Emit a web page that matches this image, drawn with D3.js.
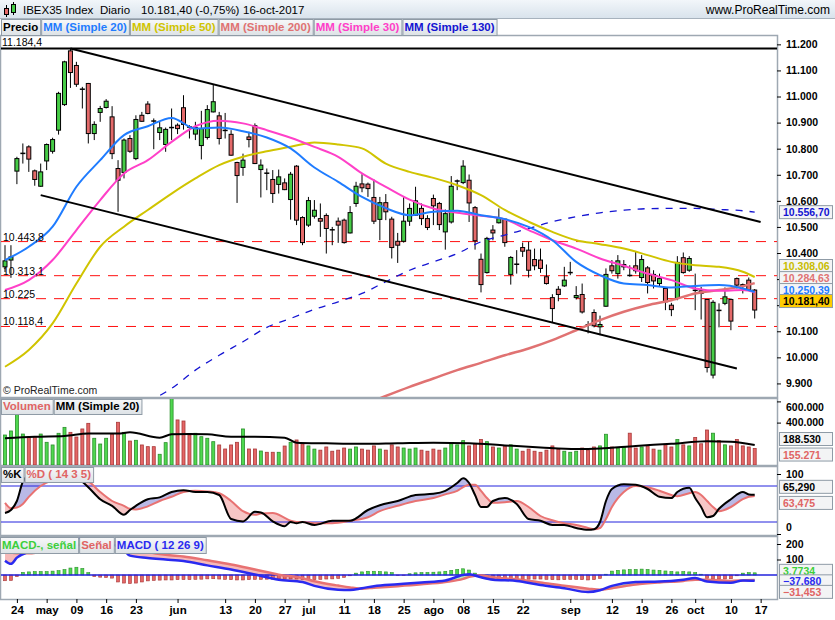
<!DOCTYPE html>
<html>
<head>
<meta charset="utf-8">
<script src="https://cdn.jsdelivr.net/npm/d3@7"></script>
<style>
  body { margin: 0; background: #fff; }
  svg { display: block; font-family: "Liberation Sans", Arial, sans-serif; }
</style>
</head>
<body>
<div id="chart"></div>
<script>
// Datos (IBEX35 diario, 20-abr a 16-oct 2017)
const open  = [10347,10373,10714,10780,10807,10715,10656,10753,10790,10871,10969,11175,11119,11030,11050,10858,10939,10958,10922,10724,10709,10839,10762,10928,10971,10908,10862,10816,10879,10890,10957,10885,10856,10812,10843,10941,10926,10872,10855,10747,10728,10845,10888,10720,10708,10682,10663,10669,10605,10733,10536,10507,10541,10532,10544,10491,10522,10526,10477,10590,10665,10664,10613,10529,10593,10530,10445,10445,10522,10545,10571,10532,10609,10590,10481,10519,10674,10670,10679,10574,10376,10325,10488,10516,10530,10318,10355,10421,10411,10375,10373,10309,10229,10261,10274,10323,10229,10241,10127,10172,10117,10196,10351,10321,10347,10316,10351,10306,10343,10318,10283,10264,10200,10226,10382,10334,10259,10255,10222,9932,10182,10207,10222,10302,10279,10296,10258];
const high  = [10430,10430,10769,10820,10813,10720,10743,10820,10842,11018,11137,11184.4,11133,11037,11052,10905,10964,10990,10963,10756,10839,10852,10928,10941,10982,10916,10903,10881,10954,10897,11005,10890,10903,10945,10967,11044,10941,10937,10871,10750,10781,10865,10897,10759,10724,10718,10720,10686,10711,10737,10541,10615,10603,10590,10552,10500,10536,10532,10580,10673,10702,10670,10682,10615,10626,10539,10477,10618,10590,10654,10590,10545,10624,10596,10567,10695,10682,10756,10701,10580,10398,10462,10507,10571,10532,10388,10411,10440,10443,10417,10417,10356,10242,10273,10347,10366,10273,10283,10139,10184,10160,10341,10373,10392,10373,10353,10404,10392,10350,10334,10321,10270,10209,10388,10402,10388,10321,10270,10222,10219,10207,10268,10226,10306,10283,10306,10262];
const low   = [10327,10305,10664,10743,10711,10658,10654,10718,10781,10854,10964,11033,11037,10954,10820,10833,10903,10954,10760,10558,10686,10784,10756,10903,10932,10798,10833,10788,10833,10856,10873,10839,10833,10759,10835,10939,10816,10839,10773,10592,10696,10805,10741,10613,10641,10592,10628,10641,10528,10507,10430,10500,10532,10462,10398,10430,10439,10436,10475,10577,10633,10615,10511,10449,10526,10379,10362,10440,10504,10543,10507,10488,10507,10488,10413,10513,10641,10664,10519,10413,10249,10321,10449,10513,10424,10279,10321,10385,10306,10334,10324,10279,10132,10215,10270,10315,10222,10168,10092,10115,10085,10194,10321,10302,10334,10309,10321,10289,10245,10264,10270,10181,10158,10219,10321,10328,10181,10145,9942,9919,10115,10200,10104,10264,10245,10255,10149];
const close = [10370,10385,10762,10782,10760,10682,10711,10816,10835,11012,11133,11092,11047,11028,10858,10893,10954,10982,10781,10679,10833,10790,10912,10905,10935,10906,10880,10874,10881,10877,10893,10883,10881,10877,10950,10980,10839,10870,10775,10697,10756,10835,10743,10737,10706,10628,10692,10643,10702,10526,10440,10601,10564,10522,10494,10489,10507,10440,10555,10656,10650,10647,10522,10593,10558,10421,10430,10522,10571,10600,10532,10498,10581,10509,10551,10656,10676,10733,10592,10447,10279,10456,10477,10532,10440,10383,10357,10407,10334,10351,10341,10283,10187,10241,10296,10325,10237,10174,10125,10121,10126,10318,10332,10370,10356,10314,10332,10375,10287,10293,10302,10213,10183,10364,10325,10379,10257,10245,9961,10211,10180,10232,10139,10277,10273,10258,10181.4];
// volumen en miles
const volume = [283,321,481,292,267,267,292,214,189,299,355,308,264,340,393,252,198,252,292,403,308,226,233,189,173,173,101,211,750,425,415,283,299,267,252,220,189,151,189,214,340,151,151,132,120,120,120,179,214,236,200,180,150,140,170,130,140,160,150,170,150,140,180,150,140,190,170,160,150,160,140,130,150,140,160,200,190,230,180,200,240,220,170,160,180,190,150,130,150,130,120,140,180,150,130,120,130,160,140,170,180,290,170,160,170,300,160,170,180,150,140,190,170,240,190,180,260,200,330,300,230,190,180,240,180,170,155.271];
const histogram = [-37,-35,-10,17,20,22,22,22,25,28,35,45,50,42,15,-10,-14,-16,-20,-45,-52,-55,-52,-45,-38,-35,-33,-32,-32,-30,-30,-30,-28,-27,-25,-24,-26,-28,-30,-32,-32,-30,-28,-28,-27,-27,-26,-26,-25,-26,-28,-30,-30,-28,-26,-25,-22,-15,-5,12,20,24,24,22,20,15,-4,-2,8,14,15,16,18,20,24,30,36,40,32,12,-15,-22,-22,-24,-22,-25,-25,-27,-27,-26,-26,-28,-30,-31,-30,-28,-28,-30,-32,-30,-22,5,25,30,33,35,36,38,36,32,30,26,22,20,22,20,15,5,-22,-25,-26,-26,-24,-5,12,15,14];

// medias móviles, leídas cada pocas sesiones (índice de sesión)
const maIdx  = [0,4,8,12,16,20,24,28,32,36,40,44,48,52,56,60,64,68,72,76,80,84,88,92,96,100,104,108,112,116,120,124,126];
const mm20   = [10373,10424,10501,10654,10756,10852,10886,10918,10877,10881,10867,10843,10801,10728,10673,10615,10572,10545,10558,10562,10545,10530,10500,10449,10366,10315,10283,10277,10268,10274,10277,10264,10250.39];
const mm30   = [10258,10296,10373,10488,10603,10705,10756,10826,10886,10907,10897,10871,10842,10807,10769,10705,10654,10605,10571,10554,10543,10529,10488,10449,10417,10379,10351,10321,10296,10264,10255,10258,10249];
const mm50   = [9964,10028,10130,10283,10424,10501,10565,10628,10686,10737,10769,10790,10807,10824,10816,10801,10743,10711,10688,10660,10622,10565,10520,10481,10449,10434,10417,10392,10366,10353,10347,10328,10308.06];
const mm200  = [null,null,null,null,null,null,null,null,null,null,null,null,null,null,null,9815,9852,9887,9919,9951,9979,10008,10034,10066,10104,10143,10175,10200,10219,10245,10258,10273,10284.63];
const mm130  = [null,null,null,null,null,null,9830,9881,9951,10008,10060,10115,10149,10184,10213,10245,10290,10334,10366,10398,10443,10469,10494,10520,10539,10554,10564,10570,10571,10571,10567,10562,10556.70];

const volIdx = [0,5,10,14,19,21,26,28,31,34,38,42,47,49,54,60,66,72,78,84,90,96,100,106,112,118,122,126];
const volMA  = [252,267,274,296,296,308,258,289,292,289,267,267,258,211,205,200,205,210,205,185,165,150,155,180,200,225,220,188.53];

const stoIdx = [0,1,2,3,4,6,8,10,12,13,14,16,18,20,21,22,24,26,28,30,32,34,36,38,40,42,43,45,47,48,49,50,52,55,58,61,63,66,69,72,74,76,77,78,79,80,81,82,84,86,88,90,92,94,96,98,99,100,101,102,104,106,108,110,112,113,115,116,117,118,119,120,122,124,125,126];
const stoK   = [35,40,55,87,97,100,98,100,95,87,78,58,47,32,40,47,58,61,70,73,70,70,65,25,21,37,36,21,13,20,18,20,15,22,22,40,48,55,65,67,72,85,93,85,65,45,45,55,60,50,25,22,15,15,10,7,8,20,55,75,83,82,75,62,60,70,77,60,45,28,30,42,58,70,66,65.29];
const stoD   = [52,43,44,50,62,80,90,95,97,93,88,70,55,47,42,41,46,55,62,70,72,71,68,55,38,32,34,35,27,22,20,20,18,18,22,28,38,47,55,60,66,72,78,82,82,72,60,52,53,55,45,30,23,18,15,10,8,10,25,45,70,80,78,72,65,63,68,70,65,55,45,38,45,58,62,63.475];

const macdIdx    = [0,1,2,4,8,12,16,18,20,21,24,27,30,34,38,42,46,50,52,56,58,60,62,66,70,74,77,78,80,82,86,90,94,98,100,102,106,110,114,116,118,122,124,126];
const macdLine   = [92,72,112,150,200,240,230,200,160,125,110,100,90,62,35,3,-30,-45,-70,-95,-97,-85,-72,-60,-48,-35,0,5,-15,-30,-38,-65,-85,-110,-98,-70,-45,-42,-30,-20,-42,-50,-35,-37.68];
const macdSignal = [158,145,140,140,165,190,215,215,200,185,150,130,120,95,68,35,2,-20,-40,-68,-80,-88,-82,-72,-60,-45,-25,-12,-3,-15,-28,-48,-70,-88,-95,-85,-62,-48,-38,-30,-30,-38,-35,-31.453];

const levels = [10443.8, 10313.1, 10225, 10118.4];
const maxLevel = 11184.4;
const upperChannel = [["2017-05-08", 11184.4], ["2017-10-17", 10519]];
const lowerChannel = [["2017-04-28", 10622], ["2017-10-11", 9957]];

const priceTicks = [9900,10000,10100,10200,10300,10400,10500,10600,10700,10800,10900,11000,11100,11200];
const volTicks = [400, 600];
const stoTicks = [0, 100];
const macdTicks = [100, 200];
const tickDays = ["2017-04-24","2017-05-02","2017-05-09","2017-05-16","2017-05-23","2017-06-01","2017-06-13","2017-06-20","2017-06-27","2017-07-03","2017-07-11","2017-07-18","2017-07-25","2017-08-01","2017-08-08","2017-08-15","2017-08-22","2017-09-01","2017-09-12","2017-09-19","2017-09-26","2017-10-02","2017-10-10","2017-10-17"];
const tickLabels = ["24","may","09","16","23","jun","13","20","27","jul","11","18","25","ago","08","15","22","sep","12","19","26","oct","10","17"];

// sesiones de bolsa (sin fines de semana ni el 1 de mayo), más el 17-oct
const holidays = ["2017-05-01"];
const fmtDay = d3.timeFormat("%Y-%m-%d");
const days = d3.timeDay.range(new Date(2017, 3, 20), new Date(2017, 9, 18))
  .filter(d => d.getDay() % 6 !== 0)
  .map(fmtDay)
  .filter(d => !holidays.includes(d));

const es = d3.formatLocale({ decimal: ",", thousands: ".", grouping: [3], currency: ["", "€"] });
const fmt0 = es.format(",.0f"), fmt1 = es.format(",.1f"), fmt2 = es.format(",.2f"), fmt3 = es.format(",.3f");

// Dimensiones
const W = 835, H = 620, R = 777;
const P = { main: [36, 397], vol: [399, 465], sto: [467, 535], macd: [537, 599] };
const GREEN = "#46cc46", RED = "#e46a6a";

const svg = d3.select("#chart").append("svg").attr("width", W).attr("height", H);
const defs = svg.append("defs");

function vGrad(id, c1, c2) {
  const g = defs.append("linearGradient").attr("id", id).attr("x1", 0).attr("y1", 0).attr("x2", 0).attr("y2", 1);
  g.append("stop").attr("offset", 0).attr("stop-color", c1);
  g.append("stop").attr("offset", 1).attr("stop-color", c2);
}
vGrad("hdr", "#f2f6fa", "#d9e3ec");
vGrad("leg", "#f7f8f9", "#dde2e6");

Object.entries(P).forEach(([k, [t, b]]) => {
  defs.append("clipPath").attr("id", "clip-" + k)
    .append("rect").attr("x", 1).attr("y", t).attr("width", R - 1).attr("height", b - t);
});

// Escalas
const x = d3.scalePoint().domain(days).range([5, 760.65]);
const yP = d3.scaleLinear().domain([9848, 11232]).range([397, 36]);
const yV = d3.scaleLinear().domain([0, 632]).range([465, 398]);
const yS = d3.scaleLinear().domain([0, 100]).range([534, 474]);
const yM = d3.scaleLinear().domain([0, 100]).range([575, 559.5]);

const bars = days.slice(0, close.length).map((d, i) => ({
  d, o: open[i], h: high[i], l: low[i], c: close[i], v: volume[i], m: histogram[i]
}));

// Cabecera
svg.append("rect").attr("width", W).attr("height", 18).attr("fill", "url(#hdr)");
svg.append("line").attr("x1", 0).attr("x2", W).attr("y1", 18.5).attr("y2", 18.5).attr("stroke", "#a7b2bd");
const icon = svg.append("g");
icon.append("line").attr("x1", 6.5).attr("x2", 6.5).attr("y1", 5).attr("y2", 17).attr("stroke", "#000");
icon.append("rect").attr("x", 4.5).attr("y", 8.5).attr("width", 4).attr("height", 6).attr("fill", RED).attr("stroke", "#000");
icon.append("line").attr("x1", 13.5).attr("x2", 13.5).attr("y1", 2).attr("y2", 15).attr("stroke", "#000");
icon.append("rect").attr("x", 11.5).attr("y", 4.5).attr("width", 4).attr("height", 8).attr("fill", GREEN).attr("stroke", "#000");
[["IBEX35 Index", 23], ["Diario", 100], ["10.181,40 (-0,75%)", 141], ["16-oct-2017", 243]].forEach(([t, xx]) =>
  svg.append("text").attr("x", xx).attr("y", 14).attr("font-size", 11.5).attr("fill", "#000").text(t));
svg.append("text").attr("x", 830).attr("y", 14).attr("text-anchor", "end").attr("font-size", 12).attr("fill", "#000").text("www.ProRealTime.com");

// Marcos de paneles
Object.values(P).forEach(([t, b]) => {
  svg.append("rect").attr("x", 0.5).attr("y", t - 0.5).attr("width", R).attr("height", b - t + 1)
    .attr("fill", "#fff").attr("stroke", "#9ea8b2").attr("stroke-width", 1.5);
});
svg.append("line").attr("x1", R + 0.5).attr("x2", R + 0.5).attr("y1", 36).attr("y2", 600).attr("stroke", "#9ea8b2");

// ---------- Panel de precio ----------
const gMain = svg.append("g").attr("clip-path", "url(#clip-main)");

gMain.selectAll(".lvl").data(levels).enter().append("line")
  .attr("x1", 0).attr("x2", R).attr("y1", d => yP(d)).attr("y2", d => yP(d))
  .attr("stroke", "#ff1010").attr("stroke-dasharray", "10,8");
gMain.append("line").attr("x1", 0).attr("x2", R).attr("y1", yP(maxLevel)).attr("y2", yP(maxLevel))
  .attr("stroke", "#000").attr("stroke-width", 2);

// velas
const cg = gMain.selectAll(".candle").data(bars).enter().append("g");
cg.append("line").attr("x1", d => x(d.d)).attr("x2", d => x(d.d))
  .attr("y1", d => yP(d.h)).attr("y2", d => yP(d.l)).attr("stroke", "#000");
cg.filter(d => Math.abs(d.c - d.o) >= 4).append("rect")
  .attr("x", d => x(d.d) - 2).attr("width", 4)
  .attr("y", d => yP(Math.max(d.o, d.c))).attr("height", d => Math.abs(yP(d.o) - yP(d.c)))
  .attr("fill", d => d.c >= d.o ? GREEN : RED).attr("stroke", "#000");
cg.filter(d => Math.abs(d.c - d.o) < 4).append("line")
  .attr("x1", d => x(d.d) - 2.5).attr("x2", d => x(d.d) + 2.5)
  .attr("y1", d => yP(d.c)).attr("y2", d => yP(d.c)).attr("stroke", "#000").attr("stroke-width", 1.5);

// medias móviles
function maLine(vals, color, width, dash) {
  const pts = maIdx.map((k, i) => ({ d: days[k], v: vals[i] }));
  gMain.append("path").datum(pts)
    .attr("fill", "none").attr("stroke", color).attr("stroke-width", width)
    .attr("stroke-dasharray", dash || null)
    .attr("d", d3.line().defined(p => p.v != null).x(p => x(p.d)).y(p => yP(p.v)).curve(d3.curveMonotoneX));
}
maLine(mm200, "#e07272", 2.5);
maLine(mm130, "#1414d2", 1.3, "7,7");
maLine(mm50, "#d0c400", 2);
maLine(mm30, "#ff40c8", 2);
maLine(mm20, "#1f7cff", 2);

// canal bajista
[upperChannel, lowerChannel].forEach(seg => {
  gMain.append("line")
    .attr("x1", x(seg[0][0])).attr("y1", yP(seg[0][1]))
    .attr("x2", x(seg[1][0])).attr("y2", yP(seg[1][1]))
    .attr("stroke", "#000").attr("stroke-width", 2);
});

// etiquetas de niveles
const lvlText = svg.append("g").attr("font-size", 10.5).attr("fill", "#000");
lvlText.append("text").attr("x", 2).attr("y", yP(maxLevel) - 2).text(fmt1(maxLevel));
levels.forEach(v => lvlText.append("text").attr("x", 3).attr("y", yP(v) - 1)
  .text(Number.isInteger(v) ? fmt0(v) : fmt1(v)));
svg.append("text").attr("x", 3).attr("y", 394).attr("font-size", 10.5).attr("fill", "#222").text("© ProRealTime.com");

// ---------- Volumen ----------
const gVol = svg.append("g").attr("clip-path", "url(#clip-vol)");
gVol.selectAll(".vb").data(bars).enter().append("rect")
  .attr("x", d => x(d.d) - 1.5).attr("width", 3)
  .attr("y", d => yV(d.v)).attr("height", d => yV(0) - yV(d.v))
  .attr("fill", d => d.c >= d.o ? "#4fd84f" : "#e46666")
  .attr("stroke", d => d.c >= d.o ? "#2b8f2b" : "#a83838").attr("stroke-width", 0.8);
gVol.append("path").datum(volIdx.map((k, i) => ({ d: days[k], v: volMA[i] })))
  .attr("fill", "none").attr("stroke", "#000").attr("stroke-width", 2)
  .attr("d", d3.line().x(p => x(p.d)).y(p => yV(p.v)).curve(d3.curveMonotoneX));

// ---------- Estocástico ----------
const gSto = svg.append("g").attr("clip-path", "url(#clip-sto)");
const sto = stoIdx.map((k, i) => ({ d: days[k], k: stoK[i], dd: stoD[i] }));
const curve = d3.curveMonotoneX;
defs.append("clipPath").attr("id", "sto-above").append("path")
  .attr("d", d3.area().x(p => x(p.d)).y0(P.sto[0] - 20).y1(p => yS(p.dd)).curve(curve)(sto));
defs.append("clipPath").attr("id", "sto-below").append("path")
  .attr("d", d3.area().x(p => x(p.d)).y0(p => yS(p.dd)).y1(P.sto[1] + 20).curve(curve)(sto));
const stoBand = d3.area().x(p => x(p.d)).y0(p => yS(p.dd)).y1(p => yS(p.k)).curve(curve);
gSto.append("path").datum(sto).attr("d", stoBand).attr("fill", "#b9b9e6").attr("clip-path", "url(#sto-above)");
gSto.append("path").datum(sto).attr("d", stoBand).attr("fill", "#f7c6c6").attr("clip-path", "url(#sto-below)");
[80, 20].forEach(v => gSto.append("line").attr("x1", 0).attr("x2", R)
  .attr("y1", yS(v)).attr("y2", yS(v)).attr("stroke", "#2222dd"));
gSto.append("path").datum(sto).attr("fill", "none").attr("stroke", "#e87272").attr("stroke-width", 2)
  .attr("d", d3.line().x(p => x(p.d)).y(p => yS(p.dd)).curve(curve));
gSto.append("path").datum(sto).attr("fill", "none").attr("stroke", "#000").attr("stroke-width", 2)
  .attr("d", d3.line().x(p => x(p.d)).y(p => yS(p.k)).curve(curve));

// ---------- MACD ----------
const gMacd = svg.append("g").attr("clip-path", "url(#clip-macd)");
const mac = macdIdx.map((k, i) => ({ d: days[k], m: macdLine[i], s: macdSignal[i] }));
defs.append("clipPath").attr("id", "mac-above").append("path")
  .attr("d", d3.area().x(p => x(p.d)).y0(P.macd[0] - 20).y1(p => yM(p.s)).curve(curve)(mac));
defs.append("clipPath").attr("id", "mac-below").append("path")
  .attr("d", d3.area().x(p => x(p.d)).y0(p => yM(p.s)).y1(P.macd[1] + 20).curve(curve)(mac));
const macBand = d3.area().x(p => x(p.d)).y0(p => yM(p.s)).y1(p => yM(p.m)).curve(curve);
gMacd.append("path").datum(mac).attr("d", macBand).attr("fill", "#bdf0bd").attr("clip-path", "url(#mac-above)");
gMacd.append("path").datum(mac).attr("d", macBand).attr("fill", "#f6b9b9").attr("clip-path", "url(#mac-below)");
gMacd.selectAll(".hb").data(bars).enter().append("rect")
  .attr("x", d => x(d.d) - 1.5).attr("width", 3)
  .attr("y", d => Math.min(yM(0), yM(d.m))).attr("height", d => Math.abs(yM(d.m) - yM(0)))
  .attr("fill", d => d.m >= 0 ? "#4fd84f" : "#e46666")
  .attr("stroke", d => d.m >= 0 ? "#2b8f2b" : "#a83838").attr("stroke-width", 0.6);
gMacd.append("line").attr("x1", 0).attr("x2", R).attr("y1", yM(0)).attr("y2", yM(0)).attr("stroke", "#2222dd").attr("stroke-width", 1.5);
gMacd.append("path").datum(mac).attr("fill", "none").attr("stroke", "#e87272").attr("stroke-width", 2.5)
  .attr("d", d3.line().x(p => x(p.d)).y(p => yM(p.s)).curve(curve));
gMacd.append("path").datum(mac).attr("fill", "none").attr("stroke", "#2a2af0").attr("stroke-width", 2.5)
  .attr("d", d3.line().x(p => x(p.d)).y(p => yM(p.m)).curve(curve));

// ---------- Leyendas ----------
function legend(x0, y0, h, items) {
  const g = svg.append("g").attr("font-size", 11.5).attr("font-weight", "bold");
  let xx = x0;
  items.forEach(([txt, col]) => {
    const t = g.append("text").attr("x", xx + 2).attr("y", y0 + h - 4).attr("fill", col).text(txt);
    const w = t.node().getComputedTextLength() + 4;
    g.insert("rect", () => t.node()).attr("x", xx + 0.5).attr("y", y0 + 0.5).attr("width", w).attr("height", h)
      .attr("fill", "url(#leg)").attr("stroke", "#8f9ba6");
    xx += w + 1;
  });
}
legend(1, 19, 16, [["Precio", "#000"], ["MM (Simple 20)", "#1f7cff"], ["MM (Simple 50)", "#d0c400"],
  ["MM (Simple 200)", "#e07272"], ["MM (Simple 30)", "#ff40c8"], ["MM (Simple 130)", "#1414d2"]]);
legend(1, 399, 15, [["Volumen", "#e06464"], ["MM (Simple 20)", "#000"]]);
legend(1, 467, 15, [["%K", "#000"], ["%D ( 14 3 5)", "#e06464"]]);
legend(0, 537, 16, [["MACD-, señal", "#3ccf3c"], ["Señal", "#e06464"], ["MACD ( 12 26 9)", "#2a2af0"]]);

// ---------- Cajas de último valor (apiladas para no taparse) ----------
const boxes = [
  { y: yP(mm130.at(-1)),           t: fmt2(mm130.at(-1)),        c: "#1414d2", price: true },
  { y: yP(mm50.at(-1)) - 11,       t: fmt2(mm50.at(-1)),         c: "#c8bc00", price: true },
  { y: yP(mm200.at(-1)) - 5,       t: fmt2(mm200.at(-1)),        c: "#e07272", price: true },
  { y: yP(mm20.at(-1)) - 2,        t: fmt2(mm20.at(-1)),         c: "#1f7cff", price: true },
  { y: yP(close.at(-1)) - 9,       t: fmt2(close.at(-1)),        c: "#000", bg: "#ffcc00", price: true },
  { y: yV(volMA.at(-1)) - 6,       t: fmt0(volMA.at(-1) * 1000), c: "#000" },
  { y: yV(volume.at(-1)) + 6,      t: fmt0(volume.at(-1) * 1000), c: "#e06464" },
  { y: yS(stoK.at(-1)) - 8,        t: fmt3(stoK.at(-1)),         c: "#000" },
  { y: yS(stoD.at(-1)) + 7,        t: fmt3(stoD.at(-1)),         c: "#e06464" },
  { y: yM(histogram.at(-1)) - 2,   t: "3.7734",                  c: "#3ccf3c" },
  { y: yM(macdLine.at(-1)) + 0.5,  t: fmt3(macdLine.at(-1)),     c: "#2a2af0" },
  { y: yM(macdSignal.at(-1)) + 12, t: fmt3(macdSignal.at(-1)),   c: "#e06464" }
];

// ---------- Ejes ----------
function rightAxis(scale, ticks, fmt, lo, hi, hideUnderBoxes) {
  const g = svg.append("g").attr("transform", `translate(${R},0)`)
    .call(d3.axisRight(scale).tickValues(ticks).tickFormat(fmt).tickSize(4).tickPadding(5));
  g.select(".domain").remove();
  g.selectAll(".tick line").attr("stroke", "#000");
  const txt = g.selectAll(".tick text").attr("font-size", 10.5).attr("font-weight", "bold")
    .attr("font-family", '"Liberation Sans", Arial, sans-serif').attr("fill", "#000")
    .attr("y", d => Math.min(Math.max(scale(d), lo), hi) - scale(d));
  if (hideUnderBoxes) txt.filter(d => boxes.some(b => b.price && Math.abs(b.y - scale(d)) < 8)).remove();
}
rightAxis(yP, priceTicks, fmt0, 40, 392, true);
rightAxis(yV, volTicks, d => fmt0(d * 1000), 407, 460);
rightAxis(yS, stoTicks, fmt0, 473, 527);
rightAxis(yM, macdTicks, fmt0, 543, 595);

boxes.forEach(b => {
  const g = svg.append("g");
  g.append("rect").attr("x", 779.5).attr("y", b.y - 6.5).attr("width", 53).attr("height", 13)
    .attr("fill", b.bg || "#f3f4f5").attr("stroke", "#8f9ba6");
  g.append("text").attr("x", 783).attr("y", b.y + 4).attr("font-size", 10.5).attr("font-weight", "bold")
    .attr("fill", b.c).text(b.t);
});

// eje de fechas
const gx = svg.append("g").attr("transform", "translate(0,599)")
  .call(d3.axisBottom(x).tickValues(tickDays).tickFormat((d, i) => tickLabels[i]).tickSize(4).tickPadding(3));
gx.select(".domain").remove();
gx.selectAll(".tick line").attr("stroke", "#000");
gx.selectAll(".tick text").attr("font-size", 11.5).attr("font-weight", "bold")
  .attr("font-family", '"Liberation Sans", Arial, sans-serif').attr("fill", "#000");
</script>
</body>
</html>
